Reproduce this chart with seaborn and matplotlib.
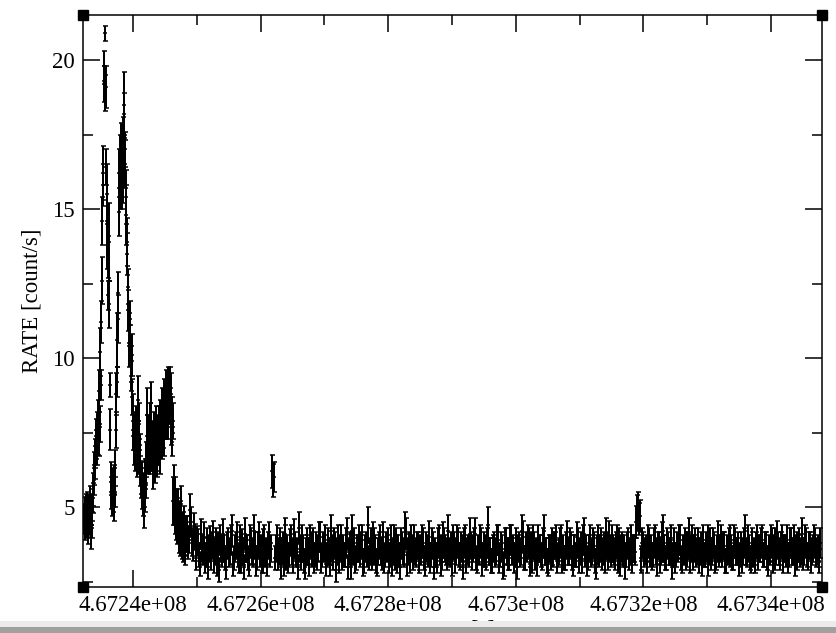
import matplotlib
matplotlib.use("Agg")
import matplotlib.pyplot as plt
from matplotlib.patches import Rectangle
from matplotlib.ticker import MultipleLocator, FuncFormatter
import numpy as np
import pandas as pd
import seaborn as sns

# --- light curve data (time in s, rate and 1-sigma error in count/s) ---

# flare part, regular 78.4 s bins
flare_start = 467232320.0
flare_step = 78.4
flare_rate = [
    4.6, 4.9, 4.3, 5.0, 4.8, 4.4, 5.1, 4.7, 4.2, 4.9,
    4.5, 5.2, 4.6, 4.0, 4.8, 5.0, 4.4, 5.3, 5.6, 5.9,
    6.3, 6.8, 6.5, 7.1, 7.4, 6.9, 7.6, 7.3, 8.0, 7.2,
    8.9, 7.8, 10.2, 9.1, 11.2, 12.6, 14.6, 15.8, 16.2, 19.2,
    19.8, 18.9, 20.9, 19.1, 16.4, 15.5, 13.8, 13.4, 12.1, 13.9,
    11.8, 9.1, 7.6, 6.0, 5.4, 5.8, 5.1, 5.6, 5.3, 5.9,
    5.0, 5.5, 6.3, 8.8, 7.6, 9.2, 10.6, 12.2, 11.3, 14.9,
    16.2, 15.7, 16.9, 16.3, 17.1, 15.9, 16.6, 17.4, 16.0, 18.2,
    18.5, 17.0, 16.5, 15.4, 14.8, 13.5, 13.9, 12.4, 11.6, 11.0,
    10.4, 11.3, 10.6, 9.8, 9.4, 8.7, 10.1, 8.2, 7.4, 6.9,
    7.6, 7.1, 6.7, 7.8, 7.2, 6.5, 7.0, 8.6, 7.4, 6.6,
    7.9, 6.9, 6.2, 6.0, 5.8, 5.4, 6.0, 5.2, 5.7, 5.5,
    4.9, 6.1, 5.3, 5.8, 6.6, 7.4, 8.1, 7.0, 6.7, 7.6,
    7.2, 6.6, 7.9, 7.0, 8.5, 6.8, 7.4, 6.2, 7.1, 7.6,
    6.9, 6.4, 7.3, 6.7, 7.8, 7.0, 6.5, 7.5, 6.9, 7.7,
    7.2, 8.0, 6.8, 7.4, 7.9, 7.1, 8.3, 7.6, 8.0, 7.3,
    8.6, 7.8, 8.2, 8.9, 7.9, 8.4, 8.7, 8.0, 9.1, 8.3,
    8.6, 9.2, 8.4, 8.8, 7.7, 8.1, 7.2, 7.9, 5.2, 5.8,
    4.9, 5.4, 4.6, 5.1, 4.4, 4.8, 4.2, 5.0, 4.5, 3.9,
    4.3, 4.7, 3.8, 4.1, 5.1, 3.7, 4.0, 4.4, 3.6, 3.9,
    4.5, 3.5, 3.8, 4.2,
]
flare_err = [
    0.50, 0.45, 0.40, 0.45, 0.50, 0.45, 0.40, 0.50, 0.45, 0.50,
    0.45, 0.50, 0.40, 0.40, 0.50, 0.45, 0.45, 0.50, 0.55, 0.50,
    0.55, 0.50, 0.55, 0.50, 0.55, 0.50, 0.60, 0.55, 0.60, 0.50,
    0.70, 0.60, 0.80, 0.50, 0.70, 0.80, 0.80, 0.70, 0.90, 0.60,
    0.50, 0.60, 0.25, 0.70, 0.60, 1.00, 0.80, 0.70, 0.50, 1.30,
    0.80, 0.40, 0.70, 0.50, 0.45, 0.50, 0.40, 0.50, 0.45, 0.50,
    0.45, 0.50, 0.60, 0.70, 0.60, 0.50, 0.90, 0.70, 0.80, 0.80,
    0.80, 0.70, 0.60, 0.70, 0.80, 0.90, 0.60, 0.70, 0.80, 0.70,
    1.10, 0.60, 0.80, 0.90, 1.00, 0.70, 0.80, 0.60, 0.70, 0.50,
    0.70, 0.60, 0.50, 0.60, 0.50, 0.60, 0.70, 0.60, 0.50, 0.50,
    0.55, 0.50, 0.50, 0.60, 0.50, 0.50, 0.55, 0.80, 0.50, 0.50,
    0.60, 0.55, 0.50, 0.55, 0.50, 0.45, 0.50, 0.50, 0.45, 0.50,
    0.60, 0.50, 0.45, 0.50, 0.60, 0.70, 0.90, 0.60, 0.60, 0.50,
    0.60, 0.50, 0.60, 0.50, 0.70, 0.60, 0.50, 0.60, 0.50, 0.60,
    0.50, 0.60, 0.50, 0.50, 0.60, 0.60, 0.50, 0.60, 0.50, 0.70,
    0.50, 0.60, 0.70, 0.50, 0.60, 0.50, 0.70, 0.60, 0.50, 0.60,
    0.70, 0.50, 0.60, 0.70, 0.60, 0.50, 0.60, 0.70, 0.60, 0.50,
    0.60, 0.50, 0.60, 0.70, 0.60, 0.60, 0.50, 0.60, 0.80, 0.60,
    0.50, 0.60, 0.50, 0.50, 0.50, 0.50, 0.45, 0.60, 0.50, 0.45,
    0.50, 0.50, 0.45, 0.50, 0.60, 0.45, 0.50, 0.45, 0.45, 0.50,
    0.55, 0.45, 0.45, 0.50,
]

# quiescent part, 300 s bins on the whole step ...
bkg_start = 467248300.0
bkg_step = 300.0
bkg_rate = [
    4.0, 3.7, 4.9, 3.8, 4.3, 3.6, 3.9, 3.4, 4.1, 3.5,
    3.2, 3.8, 3.6, 3.3, 4.0, 3.5, 3.1, 3.7, 3.9, 3.4,
    3.6, 3.0, 3.8, 3.5, 4.2, 3.3, 3.7, 3.4, 3.9, 3.2,
    3.5, 4.1, 3.6, 3.1, 3.8, 3.4, 3.7, 3.3, 4.0, 3.6,
    3.2, 3.9, 3.5, 3.7, 3.4, 6.2, 6.0, 3.6, 3.3, 3.8,
    3.5, 3.1, 4.1, 3.6, 3.4, 3.9, 3.2, 3.7, 3.5, 4.3,
    3.3, 3.6, 3.0, 3.8, 3.5, 3.9, 3.4, 3.2, 3.7, 3.6,
    4.0, 3.4, 3.6, 3.1, 3.8, 3.5, 4.2, 3.3, 3.7, 3.5,
    3.2, 3.9, 3.6, 3.4, 4.1, 3.5, 3.0, 3.7, 3.8, 3.3,
    3.6, 3.4, 3.9, 3.2, 3.7, 4.4, 3.5, 3.3, 3.8, 3.6,
    3.1, 3.7, 3.5, 4.0, 3.4, 3.6, 3.2, 3.9, 3.5, 3.3,
    3.8, 3.6, 3.0, 3.7, 3.4, 4.1, 3.5, 3.2, 3.6, 3.9,
    3.4, 3.7, 3.3, 3.5, 3.8, 3.1, 3.6, 4.0, 3.4, 3.7,
    3.5, 3.2, 3.9, 3.6, 3.3, 3.8, 3.5, 4.2, 3.4, 3.1,
    3.7, 3.5, 3.8, 3.3, 3.6, 3.0, 3.9, 3.5, 3.4, 3.7,
    3.6, 4.1, 3.2, 3.5, 3.8, 3.4, 3.6, 3.3, 4.4, 3.5,
    3.2, 3.7, 3.5, 3.9, 3.4, 3.6, 3.1, 3.8, 3.5, 3.3,
    3.9, 3.6, 3.4, 3.0, 3.7, 3.5, 4.0, 3.3, 3.6, 3.8,
    3.4, 3.2, 3.7, 3.5, 3.9, 3.6, 3.3, 4.2, 3.5, 3.1,
    3.6, 3.8, 3.4, 3.7, 3.2, 3.5, 3.9, 3.6, 3.3, 4.0,
    3.5, 3.7, 3.1, 3.6, 3.4, 3.8, 3.5, 3.2, 4.1, 3.6,
    3.3, 3.9, 3.5, 3.7, 3.0, 3.6, 3.4, 3.8, 3.5, 3.2,
    3.7, 4.0, 3.4, 3.6, 3.3, 3.9, 3.5, 3.1, 3.7, 3.6,
    3.4, 3.8, 3.5, 3.2, 3.6, 4.5, 4.9, 4.7, 3.3, 3.7,
    3.5, 3.2, 3.8, 3.6, 3.4, 3.9, 3.1, 3.7, 3.5, 4.2,
    3.6, 3.3, 3.7, 3.5, 3.0, 3.8, 3.4, 3.6, 3.9, 3.2,
    3.5, 3.7, 3.4, 4.1, 3.6, 3.3, 3.8, 3.5, 3.2, 3.7,
    3.9, 3.4, 3.6, 3.1, 3.8, 3.5, 3.7, 3.3, 4.0, 3.6,
    3.4, 3.7, 3.2, 3.5, 3.9, 3.6, 3.3, 3.8, 3.5, 3.1,
    3.7, 3.5, 4.2, 3.4, 3.6, 3.2, 3.8, 3.5, 3.7, 3.3,
    3.6, 3.9, 3.4, 3.7, 3.1, 3.5, 3.8, 3.6, 3.3, 4.0,
    3.5, 3.7, 3.2, 3.6, 3.9, 3.4, 3.8, 3.5, 3.1, 3.7,
    3.6, 3.4, 4.1, 3.5, 3.8, 3.3, 3.7, 3.5, 3.9, 3.4,
    3.6, 3.2,
]
bkg_err = [
    0.50, 0.45, 0.55, 0.45, 0.50, 0.40, 0.45, 0.40, 0.50, 0.45,
    0.40, 0.50, 0.45, 0.40, 0.55, 0.45, 0.40, 0.45, 0.50, 0.40,
    0.45, 0.40, 0.50, 0.45, 0.55, 0.40, 0.45, 0.40, 0.50, 0.40,
    0.45, 0.55, 0.45, 0.40, 0.50, 0.40, 0.45, 0.40, 0.50, 0.45,
    0.40, 0.50, 0.45, 0.45, 0.40, 0.55, 0.50, 0.45, 0.40, 0.50,
    0.45, 0.40, 0.55, 0.45, 0.40, 0.50, 0.40, 0.45, 0.45, 0.55,
    0.40, 0.45, 0.40, 0.50, 0.45, 0.50, 0.40, 0.40, 0.45, 0.45,
    0.50, 0.40, 0.45, 0.40, 0.50, 0.45, 0.55, 0.40, 0.45, 0.45,
    0.40, 0.50, 0.45, 0.40, 0.55, 0.45, 0.40, 0.45, 0.50, 0.40,
    0.45, 0.40, 0.50, 0.40, 0.45, 0.60, 0.45, 0.40, 0.50, 0.45,
    0.40, 0.45, 0.45, 0.50, 0.40, 0.45, 0.40, 0.50, 0.45, 0.40,
    0.50, 0.45, 0.40, 0.45, 0.40, 0.55, 0.45, 0.40, 0.45, 0.50,
    0.40, 0.45, 0.40, 0.45, 0.50, 0.40, 0.45, 0.55, 0.40, 0.45,
    0.45, 0.40, 0.50, 0.45, 0.40, 0.50, 0.45, 0.55, 0.40, 0.40,
    0.45, 0.45, 0.50, 0.40, 0.45, 0.40, 0.50, 0.45, 0.40, 0.45,
    0.45, 0.55, 0.40, 0.45, 0.50, 0.40, 0.45, 0.40, 0.60, 0.45,
    0.40, 0.45, 0.45, 0.50, 0.40, 0.45, 0.40, 0.50, 0.45, 0.40,
    0.50, 0.45, 0.40, 0.40, 0.45, 0.45, 0.55, 0.40, 0.45, 0.50,
    0.40, 0.40, 0.45, 0.45, 0.50, 0.45, 0.40, 0.55, 0.45, 0.40,
    0.45, 0.50, 0.40, 0.45, 0.40, 0.45, 0.50, 0.45, 0.40, 0.55,
    0.45, 0.45, 0.40, 0.45, 0.40, 0.50, 0.45, 0.40, 0.55, 0.45,
    0.40, 0.50, 0.45, 0.45, 0.40, 0.45, 0.40, 0.50, 0.45, 0.40,
    0.45, 0.55, 0.40, 0.45, 0.40, 0.50, 0.45, 0.40, 0.45, 0.45,
    0.40, 0.50, 0.45, 0.40, 0.45, 0.55, 0.60, 0.55, 0.40, 0.45,
    0.45, 0.40, 0.50, 0.45, 0.40, 0.50, 0.40, 0.45, 0.45, 0.55,
    0.45, 0.40, 0.45, 0.45, 0.40, 0.50, 0.40, 0.45, 0.50, 0.40,
    0.45, 0.45, 0.40, 0.55, 0.45, 0.40, 0.50, 0.45, 0.40, 0.45,
    0.50, 0.40, 0.45, 0.40, 0.50, 0.45, 0.45, 0.40, 0.55, 0.45,
    0.40, 0.45, 0.40, 0.45, 0.50, 0.45, 0.40, 0.50, 0.45, 0.40,
    0.45, 0.45, 0.55, 0.40, 0.45, 0.40, 0.50, 0.45, 0.45, 0.40,
    0.45, 0.50, 0.40, 0.45, 0.40, 0.45, 0.50, 0.45, 0.40, 0.55,
    0.45, 0.45, 0.40, 0.45, 0.50, 0.40, 0.50, 0.45, 0.40, 0.45,
    0.45, 0.40, 0.55, 0.45, 0.50, 0.40, 0.45, 0.45, 0.50, 0.40,
    0.45, 0.40,
]

# ... and on the half step in between
bkg_half_rate = [
    4.2, 3.9, 4.5, 3.6, 4.0, 3.3, 3.8, 3.1, 3.6, 4.0,
    3.4, 3.0, 3.9, 3.7, 3.2, 3.8, 3.5, 2.9, 3.6, 4.1,
    3.3, 3.7, 3.4, 3.9, 3.1, 3.6, 4.0, 3.2, 3.5, 3.8,
    3.0, 3.6, 3.3, 3.9, 3.5, 4.2, 3.1, 3.7, 3.4, 3.2,
    3.8, 3.4, 3.1, 4.0, 3.6, 5.9, 3.3, 3.9, 3.5, 3.0,
    3.7, 3.9, 3.3, 3.2, 3.8, 3.5, 4.1, 3.4, 3.0, 3.6,
    3.9, 3.2, 3.5, 3.6, 3.1, 3.7, 3.8, 3.4, 3.3, 4.0,
    3.2, 3.7, 3.9, 3.4, 3.5, 3.1, 3.6, 3.8, 2.9, 3.9,
    3.6, 3.3, 3.4, 3.8, 3.0, 3.7, 4.2, 3.5, 3.2, 3.6,
    3.9, 3.7, 3.1, 3.6, 3.4, 3.3, 3.8, 4.0, 3.5, 3.2,
    3.5, 3.9, 3.3, 3.2, 3.7, 3.8, 3.4, 3.1, 3.9, 3.6,
    3.2, 3.4, 3.8, 3.5, 4.3, 3.1, 3.7, 3.9, 3.3, 3.5,
    3.7, 3.2, 3.6, 3.9, 3.3, 3.7, 3.4, 3.2, 3.8, 3.0,
    3.4, 3.8, 3.5, 3.1, 4.0, 3.6, 3.3, 3.5, 3.7, 3.9,
    3.2, 3.9, 3.4, 3.7, 3.5, 3.8, 3.2, 3.6, 4.1, 3.3,
    3.8, 3.3, 3.6, 3.9, 3.1, 3.7, 3.4, 3.8, 3.5, 3.2,
    3.6, 3.4, 3.9, 3.2, 3.7, 3.0, 3.8, 3.5, 3.3, 3.9,
    3.5, 3.2, 3.8, 3.6, 3.4, 4.2, 3.3, 3.7, 3.9, 3.1,
    3.7, 3.9, 3.3, 3.1, 3.6, 3.4, 3.8, 3.5, 3.2, 3.6,
    3.3, 3.5, 3.7, 3.9, 3.4, 3.8, 3.2, 3.3, 3.7, 3.5,
    3.8, 3.3, 3.6, 3.4, 4.0, 3.2, 3.7, 3.9, 3.4, 3.1,
    3.6, 3.4, 3.8, 3.2, 3.5, 3.9, 3.6, 3.3, 3.7, 4.1,
    3.3, 3.6, 3.9, 3.5, 3.7, 3.2, 3.8, 3.6, 3.4, 3.0,
    3.7, 3.3, 3.9, 3.6, 3.5, 4.8, 4.6, 3.2, 3.8, 3.4,
    3.6, 3.9, 3.4, 3.3, 3.8, 3.5, 3.7, 3.2, 4.0, 3.6,
    3.3, 3.8, 3.5, 3.9, 3.4, 3.2, 3.7, 3.9, 3.3, 3.6,
    3.8, 3.3, 3.7, 3.2, 3.9, 3.6, 3.4, 3.8, 3.5, 3.1,
    3.4, 3.7, 3.9, 3.5, 3.3, 3.8, 3.2, 3.6, 3.4, 3.9,
    3.7, 3.2, 3.6, 3.8, 3.4, 3.3, 3.9, 3.5, 3.7, 3.4,
    3.2, 3.8, 3.5, 3.9, 3.3, 3.7, 3.4, 3.2, 3.9, 3.6,
    3.8, 3.4, 3.7, 3.3, 3.6, 3.9, 3.2, 3.8, 3.5, 3.7,
    3.3, 3.9, 3.6, 3.4, 3.2, 3.8, 3.5, 3.9, 3.6, 3.3,
    3.8, 3.5, 3.3, 3.9, 3.4, 3.7, 3.2, 3.6, 3.8, 3.5,
    3.4, 3.8,
]
bkg_half_err = [
    0.50, 0.45, 0.50, 0.40, 0.45, 0.40, 0.45, 0.40, 0.45, 0.50,
    0.40, 0.40, 0.45, 0.45, 0.40, 0.50, 0.45, 0.40, 0.45, 0.50,
    0.40, 0.45, 0.40, 0.50, 0.40, 0.45, 0.50, 0.40, 0.45, 0.45,
    0.40, 0.45, 0.40, 0.50, 0.45, 0.55, 0.40, 0.45, 0.40, 0.40,
    0.45, 0.40, 0.40, 0.50, 0.45, 0.55, 0.40, 0.50, 0.45, 0.40,
    0.45, 0.50, 0.40, 0.40, 0.45, 0.45, 0.50, 0.40, 0.40, 0.45,
    0.50, 0.40, 0.45, 0.45, 0.40, 0.45, 0.50, 0.40, 0.40, 0.50,
    0.40, 0.45, 0.50, 0.40, 0.45, 0.40, 0.45, 0.50, 0.40, 0.50,
    0.45, 0.40, 0.40, 0.50, 0.40, 0.45, 0.55, 0.45, 0.40, 0.45,
    0.50, 0.45, 0.40, 0.45, 0.40, 0.40, 0.50, 0.50, 0.45, 0.40,
    0.45, 0.50, 0.40, 0.40, 0.45, 0.50, 0.40, 0.40, 0.50, 0.45,
    0.40, 0.40, 0.50, 0.45, 0.55, 0.40, 0.45, 0.50, 0.40, 0.45,
    0.45, 0.40, 0.45, 0.50, 0.40, 0.45, 0.40, 0.40, 0.50, 0.40,
    0.40, 0.50, 0.45, 0.40, 0.50, 0.45, 0.40, 0.45, 0.45, 0.50,
    0.40, 0.50, 0.40, 0.45, 0.45, 0.50, 0.40, 0.45, 0.55, 0.40,
    0.50, 0.40, 0.45, 0.50, 0.40, 0.45, 0.40, 0.50, 0.45, 0.40,
    0.45, 0.40, 0.50, 0.40, 0.45, 0.40, 0.50, 0.45, 0.40, 0.50,
    0.45, 0.40, 0.50, 0.45, 0.40, 0.55, 0.40, 0.45, 0.50, 0.40,
    0.45, 0.50, 0.40, 0.40, 0.45, 0.40, 0.50, 0.45, 0.40, 0.45,
    0.40, 0.45, 0.45, 0.50, 0.40, 0.50, 0.40, 0.40, 0.45, 0.45,
    0.50, 0.40, 0.45, 0.40, 0.50, 0.40, 0.45, 0.50, 0.40, 0.40,
    0.45, 0.40, 0.50, 0.40, 0.45, 0.50, 0.45, 0.40, 0.45, 0.55,
    0.40, 0.45, 0.50, 0.45, 0.45, 0.40, 0.50, 0.45, 0.40, 0.40,
    0.45, 0.40, 0.50, 0.45, 0.45, 0.60, 0.55, 0.40, 0.50, 0.40,
    0.45, 0.50, 0.40, 0.40, 0.50, 0.45, 0.45, 0.40, 0.50, 0.45,
    0.40, 0.50, 0.45, 0.50, 0.40, 0.40, 0.45, 0.50, 0.40, 0.45,
    0.50, 0.40, 0.45, 0.40, 0.50, 0.45, 0.40, 0.50, 0.45, 0.40,
    0.40, 0.45, 0.50, 0.45, 0.40, 0.50, 0.40, 0.45, 0.40, 0.50,
    0.45, 0.40, 0.45, 0.50, 0.40, 0.40, 0.50, 0.45, 0.45, 0.40,
    0.40, 0.50, 0.45, 0.50, 0.40, 0.45, 0.40, 0.40, 0.50, 0.45,
    0.50, 0.40, 0.45, 0.40, 0.45, 0.50, 0.40, 0.50, 0.45, 0.45,
    0.40, 0.50, 0.45, 0.40, 0.40, 0.50, 0.45, 0.50, 0.45, 0.40,
    0.50, 0.45, 0.40, 0.50, 0.40, 0.45, 0.40, 0.45, 0.50, 0.45,
    0.40, 0.50,
]

x_ticks = [467240000, 467260000, 467280000, 467300000, 467320000, 467340000]
y_ticks = [5, 10, 15, 20]

### BUILD TABLE ###

flare = pd.DataFrame({
    'time': flare_start + flare_step * np.arange(len(flare_rate)),
    'rate': flare_rate, 'err': flare_err})
quiet = pd.DataFrame({
    'time': bkg_start + bkg_step * np.arange(len(bkg_rate)),
    'rate': bkg_rate, 'err': bkg_err})
quiet_half = pd.DataFrame({
    'time': bkg_start + bkg_step / 2 + bkg_step * np.arange(len(bkg_half_rate)),
    'rate': bkg_half_rate, 'err': bkg_half_err})
lc = pd.concat([flare, quiet, quiet_half], ignore_index=True).sort_values('time')

### STYLE ###

sns.set_theme(style='ticks')
plt.rcParams['font.family'] = ['Liberation Serif', 'DejaVu Serif']
plt.rcParams['axes.linewidth'] = 1.1
plt.rcParams['axes.edgecolor'] = 'black'

fig = plt.figure(figsize=(8.37, 6.33), dpi=100)
ax = fig.add_axes([83 / 837, 1 - 587 / 633, 739 / 837, 572 / 633])

### PLOT ###

# crisp, non-smoothed bars like the original plotting program
eb = ax.errorbar(lc['time'], lc['rate'], yerr=lc['err'], fmt='none',
                 ecolor='black', elinewidth=1.1, capsize=1.8, capthick=1.1)
for coll in eb[2]:
    coll.set_antialiased(False)
for cap in eb[1]:
    cap.set_antialiased(False)
sns.scatterplot(data=lc, x='time', y='rate', marker='_', s=12,
                color='black', linewidth=1.1, ax=ax, legend=False,
                antialiased=False)

ax.set_xlim(467232163, 467347994)
ax.set_ylim(2.32, 21.51)
ax.set_xticks(x_ticks)
ax.set_yticks(y_ticks)
ax.xaxis.set_minor_locator(MultipleLocator(10000))
ax.yaxis.set_minor_locator(MultipleLocator(2.5))
ax.xaxis.set_major_formatter(FuncFormatter(lambda v, p: '%g' % v))
ax.yaxis.set_major_formatter(FuncFormatter(lambda v, p: '%g' % v))

ax.tick_params(which='both', direction='in', top=True, right=True,
               width=1.1, color='black', labelcolor='black',
               labelsize=16.5, pad=6)
ax.tick_params(which='major', length=12.2)
ax.tick_params(which='minor', length=7)

ax.set_xlabel('TIME [s]', fontsize=16.5, labelpad=2, color='black')
ax.set_ylabel('RATE [count/s]', fontsize=16.5, labelpad=7, color='black')

# corner handles of the plot frame
ax.plot([0, 1, 0, 1], [0, 0, 1, 1], linestyle='none', marker='s', ms=6.8,
        color='black', transform=ax.transAxes, clip_on=False, zorder=5)

# window strip at the bottom
fig.add_artist(Rectangle((0, 0), 1, 12 / 633, transform=fig.transFigure,
                         facecolor='#ebebeb', edgecolor='none', zorder=10))
fig.add_artist(Rectangle((0, 0), 1, 6 / 633, transform=fig.transFigure,
                         facecolor='#a0a0a0', edgecolor='none', zorder=11))

fig.savefig('out.png', dpi=100)
